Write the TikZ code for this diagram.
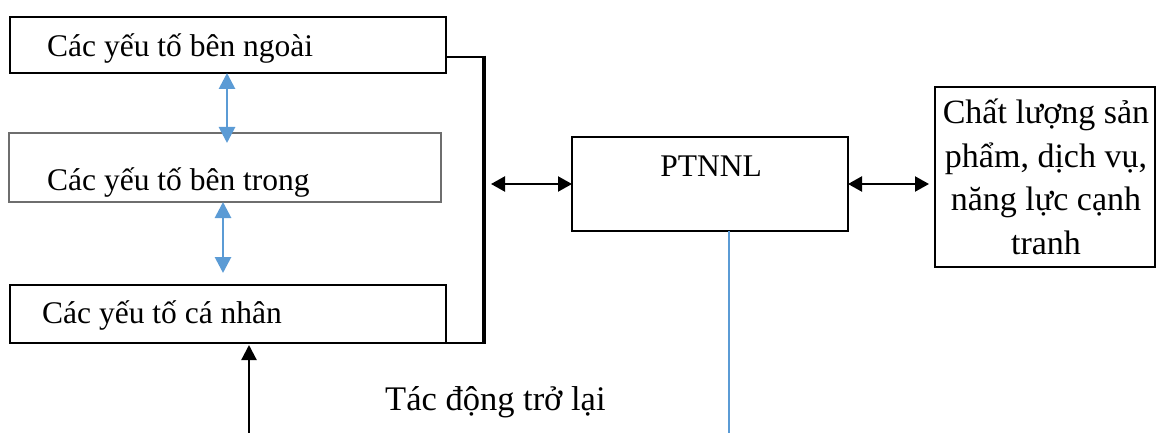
\documentclass[tikz,border=0pt]{standalone}
\usepackage{fontspec}
\setmainfont{Liberation Serif}
\usetikzlibrary{arrows.meta}
\definecolor{linkblue}{HTML}{5B9BD5}
\definecolor{framegray}{HTML}{6E6E6E}
\begin{document}
\begin{tikzpicture}[x=1pt,y=-1pt,
  box/.style={draw=black, line width=2.2pt, inner sep=0pt, outer sep=0pt},
  softbox/.style={draw=framegray, line width=1.3pt, inner sep=0pt, outer sep=0pt},
  lbl/.style={font=\fontsize{31.5}{43}\selectfont, inner sep=0pt, anchor=base west},
  dbl/.style={line width=2.2pt, {Triangle[length=14pt,width=15pt]}-{Triangle[length=14pt,width=15pt]}},
  bluedbl/.style={draw=linkblue, line width=2.8pt, {Triangle[length=16pt,width=16pt]}-{Triangle[length=16pt,width=16pt]}},
  uparr/.style={line width=2.2pt, -{Triangle[length=15pt,width=15pt]}},
]
\useasboundingbox (0,0) rectangle (1157,433);

% factor boxes on the left
\node[box, minimum width=436pt, minimum height=56pt] (ext) at (228,45) {};
\node[softbox, minimum width=432pt, minimum height=69pt] (int) at (225,167.5) {};
\node[box, minimum width=436pt, minimum height=58pt] (ind) at (228,314) {};

\node[lbl] (extT) at (47,57) {Các yếu tố bên ngoài};
\node[lbl] (intT) at (47,190) {Các yếu tố bên trong};
\node[lbl] (indT) at (42,323) {Các yếu tố cá nhân};

% central and outcome boxes
\node[box, minimum width=276pt, minimum height=94pt] (pt) at (710,184) {};
\node[lbl, anchor=base] (ptT) at (711,177) {PTNNL};
\node[box, minimum width=220pt, minimum height=180pt] (out) at (1045,177) {};
\node[align=center, inner sep=0pt, font=\fontsize{34}{43.5}\selectfont] (outT) at (1046,177)
  {Chất lượng sản\\phẩm, dịch vụ,\\năng lực cạnh\\tranh};

% bracket gathering the three factor groups
\coordinate (bt) at (484,57);
\coordinate (bb) at (484,343);
\draw[line width=2.5pt] ([yshift=-12pt]ext.east) -- (bt);
\draw[line width=4.5pt] ([yshift=1.25pt]bt) -- ([yshift=-1.25pt]bb);
\draw[line width=2.5pt] (ind.south east) -- (bb);

% links between factor groups
\draw[bluedbl] ([xshift=-1pt]ext.south) -- ([xshift=2pt,yshift=-10pt]int.north);
\draw[bluedbl] ([xshift=-2pt]int.south) -- ([xshift=-5pt,yshift=12pt]ind.north);

% links to and from the central box
\coordinate (la) at (491,184);
\draw[dbl] (la) -- (pt.west);
\draw[dbl] (pt.east) -- ([xshift=-6pt]pt.east -| out.west);

% feedback
\coordinate (fb) at (249,433);
\draw[uparr] (fb) -- ([yshift=-2pt]fb |- ind.south);
\coordinate (fl) at (729,433);
\draw[draw=linkblue, line width=1.4pt] (fl |- pt.south) -- (fl);
\node[lbl, font=\fontsize{34.5}{43}\selectfont] (fbT) at (385,410) {Tác động trở lại};
\end{tikzpicture}
\end{document}
